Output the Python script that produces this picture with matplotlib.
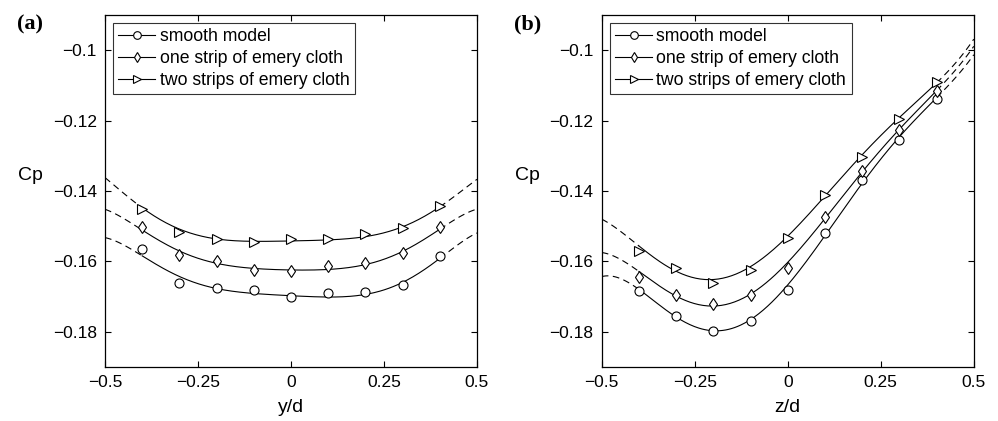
import matplotlib
matplotlib.use("Agg")
import matplotlib.pyplot as plt
import numpy as np

plt.rcParams["font.family"] = ["Liberation Sans", "DejaVu Sans"]

# 测点位置
pos = [-0.4, -0.3, -0.2, -0.1, 0.0, 0.1, 0.2, 0.3, 0.4]
# 拟合曲线的读取位置 (含虚线外推段)
fit_pos = [-0.5, -0.4, -0.3, -0.2, -0.1, 0.0, 0.1, 0.2, 0.3, 0.4, 0.5]

# (a) 沿 y/d 的测点
a_smooth = [-0.1566, -0.1660, -0.1676, -0.1682, -0.1700, -0.1690, -0.1688, -0.1668, -0.1584]
a_one = [-0.1503, -0.1582, -0.1599, -0.1625, -0.1626, -0.1613, -0.1604, -0.1576, -0.1503]
a_two = [-0.1452, -0.1517, -0.1535, -0.1546, -0.1535, -0.1537, -0.1523, -0.1506, -0.1442]
# (a) 拟合曲线
a_smooth_fit = [-0.1532, -0.1586, -0.1641, -0.1676, -0.1693, -0.1700, -0.1698, -0.1691, -0.1666, -0.1588, -0.1520]
a_one_fit = [-0.1452, -0.1510, -0.1574, -0.1600, -0.1622, -0.1628, -0.1620, -0.1606, -0.1577, -0.1506, -0.1452]
a_two_fit = [-0.1362, -0.1447, -0.1510, -0.1534, -0.1544, -0.1542, -0.1540, -0.1527, -0.1504, -0.1444, -0.1367]

# (b) 沿 z/d 的测点
b_smooth = [-0.1684, -0.1756, -0.1797, -0.1769, -0.1681, -0.1518, -0.1370, -0.1254, -0.1138]
b_one = [-0.1644, -0.1696, -0.1722, -0.1695, -0.1619, -0.1473, -0.1342, -0.1228, -0.1116]
b_two = [-0.1570, -0.1619, -0.1661, -0.1624, -0.1534, -0.1410, -0.1302, -0.1194, -0.1089]
# (b) 拟合曲线
b_smooth_fit = [-0.1640, -0.1690, -0.1752, -0.1787, -0.1769, -0.1685, -0.1515, -0.1370, -0.1254, -0.1135, -0.1012]
b_one_fit = [-0.1572, -0.1638, -0.1693, -0.1718, -0.1696, -0.1620, -0.1465, -0.1342, -0.1229, -0.1116, -0.0988]
b_two_fit = [-0.1478, -0.1565, -0.1617, -0.1652, -0.1620, -0.1534, -0.1403, -0.1299, -0.1196, -0.1090, -0.0969]

labels = ["smooth model", "one strip of emery cloth", "two strips of emery cloth"]
markers = ["o", "d", ">"]


def draw_panel(ax, series, fits, deg, xlabel, tag):
    x = np.array(pos)
    for y, fy, m in zip(series, fits, markers):
        coef = np.polyfit(fit_pos, fy, deg)
        xs = np.linspace(-0.4, 0.4, 200)
        ax.plot(xs, np.polyval(coef, xs), "k-", lw=0.8)
        for lo, hi in [(-0.5, -0.4), (0.4, 0.5)]:
            xd = np.linspace(lo, hi, 30)
            ax.plot(xd, np.polyval(coef, xd), "k", lw=0.8, linestyle=(0, (6, 4)))
        ax.plot(x, y, linestyle="none", marker=m, ms=6.5, mfc="white", mec="k", mew=0.8)

    handles = [ax.plot([], [], "k-", lw=0.8, marker=m, ms=5.5, mfc="white", mec="k", mew=0.8)[0]
               for m in markers]
    leg = ax.legend(handles, labels, loc="upper left", fontsize=12.7, frameon=True, fancybox=False,
                    handlelength=2.1, handletextpad=0.25, borderpad=0.3, labelspacing=0.28,
                    borderaxespad=0.45)
    leg.get_frame().set_edgecolor("k")
    leg.get_frame().set_linewidth(0.8)

    ax.set_xlim(-0.5, 0.5)
    ax.set_ylim(-0.19, -0.09)
    ax.set_xticks([-0.5, -0.25, 0, 0.25, 0.5])
    ax.set_xticklabels(["\u22120.5", "\u22120.25", "0", "0.25", "0.5"])
    ax.set_yticks([-0.18, -0.16, -0.14, -0.12, -0.1])
    ax.set_yticklabels(["\u22120.18", "\u22120.16", "\u22120.14", "\u22120.12", "\u22120.1"])
    ax.tick_params(direction="in", top=True, right=True, labelsize=12.5, length=4, width=0.8, pad=6)
    for s in ax.spines.values():
        s.set_linewidth(0.9)
    ax.set_xlabel(xlabel, fontsize=14, labelpad=6)
    ax.set_ylabel("Cp", fontsize=14, rotation=0)
    ax.yaxis.set_label_coords(-0.2, 0.52)
    ax.text(-0.237, 0.972, tag, transform=ax.transAxes, fontsize=16, fontweight="bold",
            family="Liberation Serif", ha="left", va="center")


fig = plt.figure(figsize=(9.98, 4.21), dpi=100)
ax1 = fig.add_axes([0.1052, 0.1283, 0.3727, 0.836])
ax2 = fig.add_axes([0.6030, 0.1283, 0.3727, 0.836])

draw_panel(ax1, [a_smooth, a_one, a_two], [a_smooth_fit, a_one_fit, a_two_fit], 6, "y/d", "(a)")
draw_panel(ax2, [b_smooth, b_one, b_two], [b_smooth_fit, b_one_fit, b_two_fit], 5, "z/d", "(b)")

fig.savefig("out.png", dpi=100)
